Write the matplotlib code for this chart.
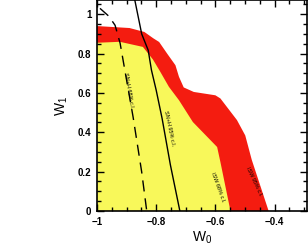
import matplotlib
matplotlib.use("Agg")
from matplotlib import pyplot as plt
from matplotlib.ticker import MultipleLocator

plt.rcParams['font.family'] = ['Liberation Sans', 'DejaVu Sans']
plt.rcParams['mathtext.default'] = 'regular'

# 95% region (red), outer boundary
red_w0 = [-1.0, -0.89, -0.84, -0.81, -0.79, -0.763, -0.735, -0.723, -0.707,
          -0.673, -0.60, -0.583, -0.527, -0.499, -0.477, -0.42, -1.0]
red_w1 = [0.94, 0.93, 0.91, 0.878, 0.859, 0.80, 0.741, 0.682, 0.628,
          0.605, 0.588, 0.572, 0.462, 0.384, 0.26, 0.0, 0.0]

# 68% region (yellow)
yel_w0 = [-1.0, -0.923, -0.845, -0.811, -0.786, -0.757, -0.723, -0.676,
          -0.594, -0.583, -0.549, -1.0]
yel_w1 = [0.855, 0.86, 0.834, 0.77, 0.707, 0.631, 0.563, 0.452,
          0.325, 0.249, 0.0, 0.0]

# SN 95% contour (solid)
sn95_w0 = [-0.872, -0.849, -0.827, -0.816, -0.80, -0.78, -0.752, -0.72]
sn95_w1 = [1.07, 0.90, 0.817, 0.716, 0.614, 0.47, 0.234, 0.0]

# SN 68% contour (dashed)
sn68_w0 = [-0.99, -0.96, -0.939, -0.922, -0.90, -0.878, -0.849, -0.832]
sn68_w1 = [1.03, 0.99, 0.944, 0.853, 0.665, 0.477, 0.198, 0.0]

fig = plt.figure(figsize=(3.08, 2.45), dpi=100)
ax = fig.add_axes([0.315, 0.139, 0.682, 0.859])

ax.fill(red_w0, red_w1, color='#F41C10', lw=0)
ax.fill(yel_w0, yel_w1, color='#F8F85A', lw=0)
ax.plot(sn95_w0, sn95_w1, color='black', lw=1.0)
ax.plot(sn68_w0, sn68_w1, color='black', lw=1.0, dashes=(8, 5))

ax.text(-0.892, 0.614, 'SN+H 68% c.l.', rotation=-80, fontsize=4,
        ha='center', va='center')
ax.text(-0.757, 0.42, 'SN+H 95% c.l.', rotation=-78, fontsize=4,
        ha='center', va='center')
ax.text(-0.592, 0.12, 'ISW 68% c.l.', rotation=-70, fontsize=4,
        ha='center', va='center')
ax.text(-0.47, 0.147, 'ISW 95% c.l.', rotation=-65, fontsize=4,
        ha='center', va='center')

ax.set_xlim(-1, -0.29)
ax.set_ylim(0, 1.07)
ax.xaxis.set_major_locator(MultipleLocator(0.2))
ax.xaxis.set_minor_locator(MultipleLocator(0.05))
ax.yaxis.set_major_locator(MultipleLocator(0.2))
ax.yaxis.set_minor_locator(MultipleLocator(0.05))
ax.set_xticks([-1, -0.8, -0.6, -0.4])
ax.set_xticklabels(['\u22121', '\u22120.8', '\u22120.6', '\u22120.4'])
ax.set_yticks([0, 0.2, 0.4, 0.6, 0.8, 1])
ax.set_yticklabels(['0', '0.2', '0.4', '0.6', '0.8', '1'])
ax.tick_params(which='both', direction='in', top=True, right=True,
               labelsize=7, width=1)
ax.tick_params(which='major', length=5, pad=4)
ax.tick_params(which='minor', length=3)
for lab in ax.get_xticklabels() + ax.get_yticklabels():
    lab.set_fontweight('bold')
for s in ax.spines.values():
    s.set_linewidth(1.2)

ax.set_xlabel('W$_0$', fontsize=10, labelpad=2)
ax.set_ylabel('W$_1$', fontsize=10, labelpad=6)

fig.savefig('out.png', dpi=100)
